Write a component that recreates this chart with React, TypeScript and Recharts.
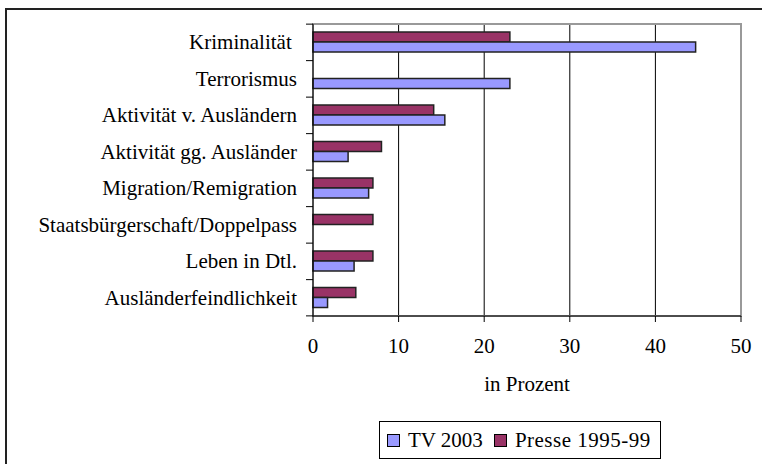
import React from 'react'
import {
  Bar,
  BarChart,
  CartesianGrid,
  Legend,
  ReferenceArea,
  XAxis,
  YAxis,
} from 'recharts'

const categories = [
  'Kriminalität ',
  'Terrorismus',
  'Aktivität v. Ausländern',
  'Aktivität gg. Ausländer',
  'Migration/Remigration',
  'Staatsbürgerschaft/Doppelpass',
  'Leben in Dtl.',
  'Ausländerfeindlichkeit',
]
const tv2003 = [44.7, 23.0, 15.4, 4.1, 6.5, 0, 4.8, 1.7]
const presse = [23.0, 0, 14.1, 8.0, 7.0, 7.0, 7.0, 5.0]
const xTicks = [0, 10, 20, 30, 40, 50]

const series = [
  { key: 'tv', name: 'TV 2003', color: '#9999ff' },
  { key: 'presse', name: 'Presse 1995-99', color: '#993366' },
]

const data = categories.map((name, i) => ({ name, tv: tv2003[i], presse: presse[i] }))

const FONT = '"Liberation Serif", "Times New Roman", serif'
const PLOT_H = 290
const band = PLOT_H / categories.length

function CategoryTick(props: any) {
  const { x, y, payload, index } = props
  return (
    <g>
      <text
        x={x - 16}
        y={y}
        dy={7}
        textAnchor='end'
        fontFamily={FONT}
        fontSize={21}
        fill='#000'
        style={{ whiteSpace: 'pre' }}
      >
        {payload.value}
      </text>
      <line x1={x - 7} x2={x} y1={y - band / 2} y2={y - band / 2} stroke='#000' />
      {index === categories.length - 1 && (
        <line x1={x - 7} x2={x} y1={y + band / 2} y2={y + band / 2} stroke='#000' />
      )}
    </g>
  )
}

function LegendBox() {
  return (
    <div
      style={{
        border: '1px solid #000',
        display: 'flex',
        alignItems: 'center',
        height: 38,
        paddingLeft: 7,
        fontFamily: FONT,
        fontSize: 21,
        boxSizing: 'border-box',
        background: '#fff',
        whiteSpace: 'nowrap',
      }}
    >
      {series.map((s) => (
        <div key={s.key} style={{ display: 'flex', alignItems: 'center', marginRight: 11 }}>
          <span
            style={{
              width: 11,
              height: 11,
              background: s.color,
              border: '1px solid #000',
              display: 'inline-block',
              marginRight: 8,
            }}
          />
          <span style={{ letterSpacing: s.key === 'presse' ? 0.5 : 0 }}>{s.name}</span>
        </div>
      ))}
    </div>
  )
}

export default function App() {
  return (
    <div style={{ position: 'absolute', left: 0, top: 0, width: 762, height: 464, background: '#fff' }}>
      <div
        style={{
          position: 'absolute',
          left: 5,
          top: 8,
          width: 757,
          height: 456,
          borderTop: '2px solid #222',
          borderLeft: '2px solid #222',
          boxSizing: 'border-box',
        }}
      />
      <BarChart
        width={762}
        height={464}
        data={data}
        layout='vertical'
        barSize={10}
        barGap={0}
        margin={{ top: 24, right: 21, bottom: 25, left: 0 }}
      >
        <CartesianGrid horizontal={false} stroke='#000' />
        <ReferenceArea x1={0} x2={50} fill='none' stroke='#999' strokeWidth={2} />
        <XAxis
          type='number'
          domain={[0, 50]}
          ticks={xTicks}
          tickSize={6}
          tickMargin={16}
          stroke='#000'
          height={85}
          tick={{ fill: '#000', fontFamily: FONT, fontSize: 21 }}
          label={{
            value: 'in Prozent',
            position: 'insideBottom',
            offset: 10,
            fill: '#000',
            fontFamily: FONT,
            fontSize: 21,
          }}
        />
        <YAxis
          type='category'
          dataKey='name'
          width={313}
          tickLine={false}
          tickSize={0}
          tickMargin={0}
          stroke='#000'
          tick={<CategoryTick />}
          interval={0}
        />
        <Legend
          verticalAlign='bottom'
          height={40}
          content={<LegendBox />}
          wrapperStyle={{ left: 379, top: 421, bottom: 'auto', width: 282, height: 38 }}
        />
        <Bar dataKey='presse' name='Presse 1995-99' fill='#993366' stroke='#222' strokeWidth={1.5} isAnimationActive={false} />
        <Bar dataKey='tv' name='TV 2003' fill='#9999ff' stroke='#222' strokeWidth={1.5} isAnimationActive={false} />
      </BarChart>
    </div>
  )
}
